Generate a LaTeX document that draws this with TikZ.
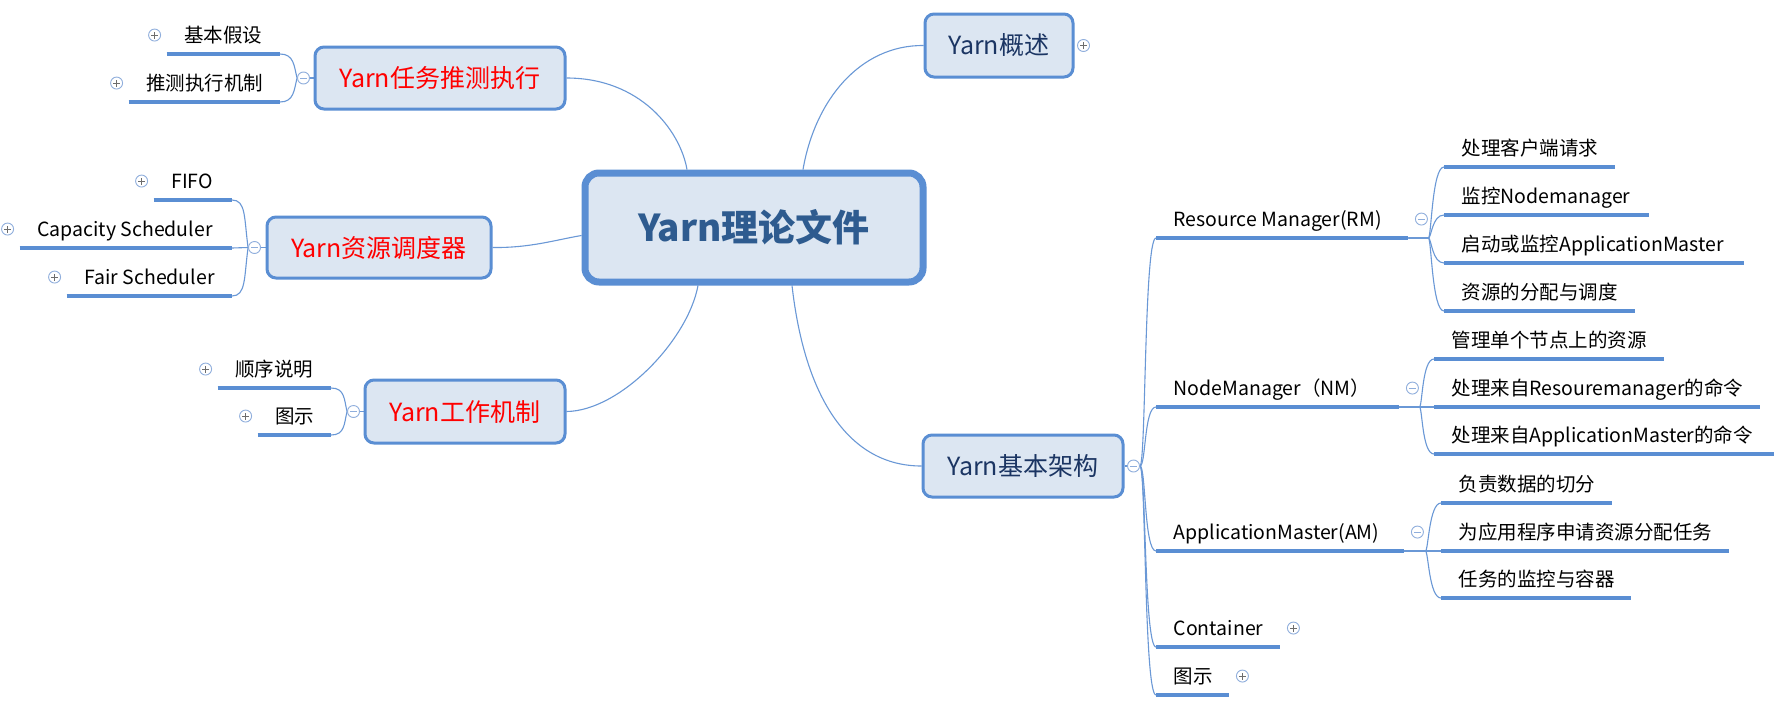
\documentclass[tikz,border=0pt]{standalone}
\usepackage{fontspec}
\setmainfont{Noto Sans CJK SC}
\usetikzlibrary{calc}
\pgfdeclarelayer{bg}
\pgfsetlayers{bg,main}
\definecolor{boxfill}{HTML}{DCE6F2}
\definecolor{boxline}{HTML}{5A8ED3}
\definecolor{conn}{HTML}{6A98D6}
\definecolor{centertext}{HTML}{2E5B8F}
\definecolor{topicnavy}{HTML}{1B3563}
\definecolor{redtext}{HTML}{FF0000}
\definecolor{circline}{HTML}{8FAEDC}
\definecolor{signcol}{HTML}{6D6D6D}
\newcommand\fsz[1]{\fontsize{#1}{#1}\selectfont}
\newcommand\ubox[2]{\hbox to \dimexpr#1pt-35pt\relax{#2\hss}}
\begin{document}
\begin{tikzpicture}[x=1pt,y=-1pt,
 topicbox/.style={draw=boxline, line width=3pt, fill=boxfill, rounded corners=9pt, inner sep=0pt, font=\fsz{25}, text=topicnavy},
 redbox/.style={topicbox, text=redtext},
 centerbox/.style={draw=boxline, line width=7pt, fill=boxfill, rounded corners=14pt, inner sep=0pt, font=\fsz{37}\bfseries, text=centertext, minimum width=338pt, minimum height=109pt},
 item/.style={inner xsep=17.5pt, inner ysep=9pt, text height=17.2pt, text depth=2.3pt, font=\fsz{19.5}},
 uline/.style={draw=boxline, line width=3.5pt},
 link/.style={draw=conn, line width=1.1pt},
 pm/.style={circle, draw=circline, fill=white, line width=0.9pt, minimum size=12pt, inner sep=0pt},
 pmplus/.style={pm, path picture={\draw[signcol, line width=1pt] ([xshift=-3.5pt]path picture bounding box.center) -- ([xshift=3.5pt]path picture bounding box.center) ([yshift=-3.5pt]path picture bounding box.center) -- ([yshift=3.5pt]path picture bounding box.center);}},
 pmminus/.style={pm, path picture={\draw[circline, line width=1pt] ([xshift=-3.5pt]path picture bounding box.center) -- ([xshift=3.5pt]path picture bounding box.center);}},
]
\useasboundingbox (0,0) rectangle (1784,707);

% central and main topics
\node[centerbox] (c) at (754,227.5) {Yarn理论文件};
\node[redbox, minimum width=250pt, minimum height=62pt] (t1) at (440,78) {Yarn任务推测执行};
\node[redbox, minimum width=224pt, minimum height=61pt] (t2) at (379,247.5) {Yarn资源调度器};
\node[redbox, minimum width=200pt, minimum height=63pt] (t3) at (465,411.5) {Yarn工作机制};
\node[topicbox, minimum width=148pt, minimum height=63pt] (t4) at (999,45.5) {Yarn概述};
\node[topicbox, minimum width=200pt, minimum height=62pt] (t5) at (1023,466) {Yarn基本架构};

% left items
\node[item, anchor=south east] (a1) at (280,54) {\ubox{113}{基本假设}};
\node[item, anchor=south east] (a2) at (280,102) {\ubox{151}{推测执行机制}};
\node[item, anchor=south east] (b1) at (232,200) {\ubox{78}{FIFO}};
\node[item, anchor=south east] (b2) at (232,248) {\ubox{212}{Capacity Scheduler}};
\node[item, anchor=south east] (b3) at (232,296) {\ubox{165}{Fair Scheduler}};
\node[item, anchor=south east] (d1) at (331,388) {\ubox{113}{顺序说明}};
\node[item, anchor=south east] (d2) at (331,435) {\ubox{73}{图示}};

% right subtopics
\node[item, anchor=south west] (r1) at (1156,238) {\ubox{252}{Resource Manager(RM)}};
\node[item, anchor=south west] (r2) at (1156,407) {\ubox{243}{NodeManager（NM）}};
\node[item, anchor=south west] (r3) at (1156,551) {\ubox{248}{ApplicationMaster(AM)}};
\node[item, anchor=south west] (r4) at (1156,647) {\ubox{124}{Container}};
\node[item, anchor=south west] (r5) at (1156,695) {\ubox{73}{图示}};

% RM children
\node[item, anchor=south west] (e1) at (1444,167) {\ubox{171}{处理客户端请求}};
\node[item, anchor=south west] (e2) at (1444,215) {\ubox{205}{监控Nodemanager}};
\node[item, anchor=south west] (e3) at (1444,263) {\ubox{300}{启动或监控ApplicationMaster}};
\node[item, anchor=south west] (e4) at (1444,311) {\ubox{191}{资源的分配与调度}};
% NM children
\node[item, anchor=south west] (f1) at (1434,359) {\ubox{230}{管理单个节点上的资源}};
\node[item, anchor=south west] (f2) at (1434,407) {\ubox{326}{处理来自Resouremanager的命令}};
\node[item, anchor=south west] (f3) at (1434,454) {\ubox{340}{处理来自ApplicationMaster的命令}};
% AM children
\node[item, anchor=south west] (g1) at (1441,503) {\ubox{171}{负责数据的切分}};
\node[item, anchor=south west] (g2) at (1441,551) {\ubox{288}{为应用程序申请资源分配任务}};
\node[item, anchor=south west] (g3) at (1441,598) {\ubox{190}{任务的监控与容器}};

\foreach \n in {a1,a2,b1,b2,b3,d1,d2,r1,r2,r3,r4,r5,e1,e2,e3,e4,f1,f2,f3,g1,g2,g3}
  \draw[uline] (\n.south west) -- (\n.south east);

% expand / collapse markers
\node[pmplus] (pa1) at ($(a1.west)+(-12,0)$) {};
\node[pmplus] (pa2) at ($(a2.west)+(-12,0)$) {};
\node[pmplus] (pb1) at ($(b1.west)+(-12,0)$) {};
\node[pmplus] (pb2) at ($(b2.west)+(-12,0)$) {};
\node[pmplus] (pb3) at ($(b3.west)+(-12,0)$) {};
\node[pmplus] (pd1) at ($(d1.west)+(-12,0)$) {};
\node[pmplus] (pd2) at ($(d2.west)+(-12,0)$) {};
\node[pmminus] (m1) at ($(t1.west)+(-10,0)$) {};
\node[pmminus] (m2) at ($(t2.west)+(-11,0)$) {};
\node[pmminus] (m3) at ($(t3.west)+(-10,0)$) {};
\node[pmplus] (p4) at ($(t4.east)+(9,0)$) {};
\node[pmminus] (m5) at ($(t5.east)+(9,0)$) {};
\node[pmminus] (mr1) at ($(r1.east)+(13,0)$) {};
\node[pmminus] (mr2) at ($(r2.east)+(13,0)$) {};
\node[pmminus] (mr3) at ($(r3.east)+(13,0)$) {};
\node[pmplus] (pr4) at ($(r4.east)+(13,0)$) {};
\node[pmplus] (pr5) at ($(r5.east)+(13,0)$) {};

\begin{pgfonlayer}{bg}
\fill[white] (0,0) rectangle (1784,707);
% central to main topics
\draw[link] ($(c.north)+(-67,0)$) .. controls (680,130) and (640,78) .. (t1.east);
\draw[link] ($(c.west)+(0,8)$) .. controls (555,240) and (530,248) .. (t2.east);
\draw[link] ($(c.south)+(-56,0)$) .. controls (688,340) and (620,411) .. (t3.east);
\draw[link] ($(c.north)+(49,0)$) .. controls (815,100) and (860,45) .. (t4.west);
\draw[link] ($(c.south)+(38,0)$) .. controls (805,400) and (850,466) .. (t5.west);
% markers to topics
\draw[link] (m1) -- (t1.west);
\draw[link] (m2) -- (t2.west);
\draw[link] (m3) -- (t3.west);
\draw[link] (m5) -- (t5.east);
% left forks
\draw[link] (m1.west) .. controls +(-3,-12) and +(14,0) .. (a1.south east);
\draw[link] (m1.west) .. controls +(-3,12) and +(14,0) .. (a2.south east);
\draw[link] (m2.west) .. controls +(-4,-30) and +(14,0) .. (b1.south east);
\draw[link] (m2.west) -- (b2.south east);
\draw[link] (m2.west) .. controls +(-4,30) and +(14,0) .. (b3.south east);
\draw[link] (m3.west) .. controls +(-3,-12) and +(14,0) .. (d1.south east);
\draw[link] (m3.west) .. controls +(-3,12) and +(14,0) .. (d2.south east);
% trunk of Yarn基本架构
\foreach \n in {r1,r2,r3,r4,r5}
  \draw[link] (m5.east) .. controls +(6,0) and +(-12,0) .. (\n.south west);
% RM / NM / AM forks
\foreach \n in {e1,e2,e3,e4}
  \draw[link] (r1.south east) -- +(20,0) .. controls +(3,0) and +(-12,0) .. (\n.south west);
\foreach \n in {f1,f2,f3}
  \draw[link] (r2.south east) -- +(20,0) .. controls +(3,0) and +(-12,0) .. (\n.south west);
\foreach \n in {g1,g2,g3}
  \draw[link] (r3.south east) -- +(21,0) .. controls +(3,0) and +(-12,0) .. (\n.south west);
\end{pgfonlayer}
\end{tikzpicture}
\end{document}
